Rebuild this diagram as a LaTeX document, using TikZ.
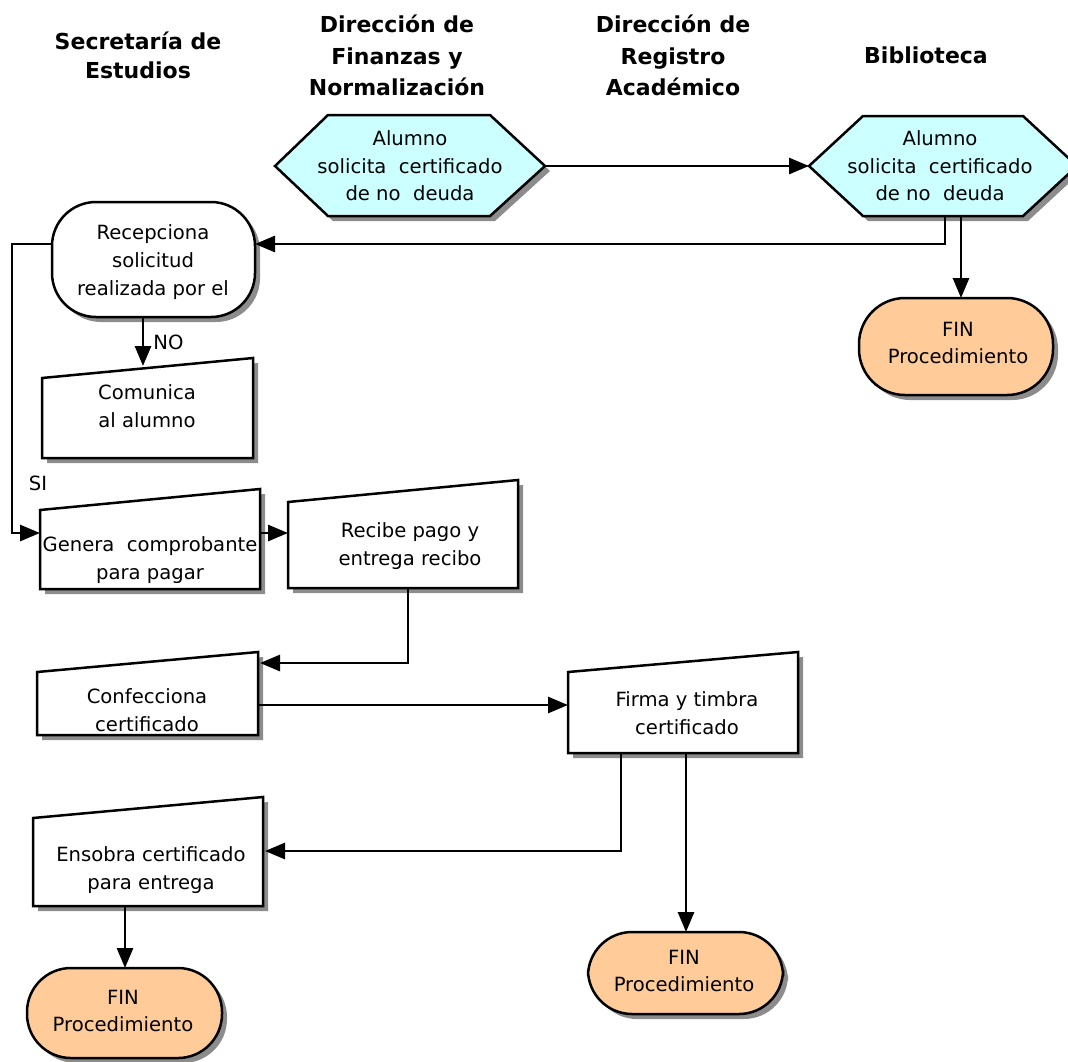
\documentclass[tikz,border=0pt]{standalone}
\usepackage{fontspec}
\setmainfont{DejaVu Sans}
\usetikzlibrary{arrows.meta}

\definecolor{hexcyan}{HTML}{CCFFFF}
\definecolor{finpeach}{HTML}{FFCC99}
\definecolor{shadowgray}{HTML}{8C8C8C}

% a filled outline with a grey drop shadow: #1 fill colour, #2 path
\newcommand{\shadedshape}[2]{%
  \fill[shadowgray, shift={(5,5)}] #2;
  \filldraw[shape line, fill=#1] #2;}

\begin{document}
\begin{tikzpicture}[x=0.5pt, y=-0.5pt,
  shape line/.style={draw=black, line width=1.25pt, line join=miter},
  conn/.style={line width=1.4pt, -{Triangle[length=10pt,width=8pt]}},
  body/.style={font=\fontsize{9.8}{13.8}\selectfont, align=center, inner sep=0pt},
  head/.style={font=\fontsize{11}{15}\selectfont\bfseries, anchor=base, inner sep=0pt},
  lbl/.style={font=\fontsize{9.8}{13.8}\selectfont, inner sep=0pt},
]
\useasboundingbox (0,0) rectangle (1068,1061);
\begin{scope}
\clip (0,0) rectangle (1068,1061);

% ---- column headings ----
\node[head] (h-sec1) at (138,49) {Secretaría de};
\node[head] (h-sec2) at (138,78) {Estudios};
\node[head] (h-fin1) at (397,32) {Dirección de};
\node[head] (h-fin2) at (397,64) {Finanzas y};
\node[head] (h-fin3) at (397,95) {Normalización};
\node[head] (h-reg1) at (673,32) {Dirección de};
\node[head] (h-reg2) at (673,64) {Registro};
\node[head] (h-reg3) at (673,95) {Académico};
\node[head] (h-bib)  at (926,63) {Biblioteca};

% ---- shapes ----
\shadedshape{hexcyan}{(275,166) -- (328,115) -- (490,115) -- (545,166) -- (490,216) -- (328,216) -- cycle}
\shadedshape{hexcyan}{(809,166) -- (863,116) -- (1023,116) -- (1077,166) -- (1023,216) -- (863,216) -- cycle}
\shadedshape{white}{[rounded corners=22pt] (52,202) rectangle (255,317)}
\shadedshape{finpeach}{[rounded corners=23pt] (859,298) rectangle (1053,395)}
\shadedshape{white}{(42,378) -- (253,358) -- (253,458) -- (42,458) -- cycle}
\shadedshape{white}{(40,510) -- (260,489) -- (260,589) -- (40,589) -- cycle}
\shadedshape{white}{(288,502) -- (518,480) -- (518,588) -- (288,588) -- cycle}
\shadedshape{white}{(37,672) -- (258,652) -- (258,735) -- (37,735) -- cycle}
\shadedshape{white}{(568,672) -- (798,652) -- (798,753) -- (568,753) -- cycle}
\shadedshape{white}{(33,818) -- (263,797) -- (263,906) -- (33,906) -- cycle}
\shadedshape{finpeach}{[rounded corners=22pt] (588,932) rectangle (783,1014)}
\shadedshape{finpeach}{[rounded corners=22pt] (27,968) rectangle (222,1058)}

% ---- texts ----
\node[body] (t-hexA)  at (410,166) {Alumno\\solicita\ \ certificado\\de no\ \ deuda};
\node[body] (t-hexB)  at (940,166) {Alumno\\solicita\ \ certificado\\de no\ \ deuda};
\node[body] (t-recep) at (153,262) {Recepciona\\solicitud\\realizada por el};
\node[body] (t-fin1)  at (958,343) {FIN\\Procedimiento};
\node[body] (t-com)   at (147,406) {Comunica\\al alumno};
\node[body] (t-gen)   at (150,560) {Genera\ \ comprobante\\para pagar};
\node[body] (t-rec)   at (410,546) {Recibe pago y\\entrega recibo};
\node[body] (t-conf)  at (147,710) {Confecciona\\certificado};
\node[body] (t-firma) at (687,713) {Firma y timbra\\certificado};
\node[body] (t-ens)   at (151,870) {Ensobra certificado\\para entrega};
\node[body] (t-fin2)  at (684,971) {FIN\\Procedimiento};
\node[body] (t-fin3)  at (123,1011) {FIN\\Procedimiento};

\node[lbl, anchor=west] (l-no) at (153,342) {NO};
\node[lbl] (l-si) at (38,483) {SI};

% ---- connection points ----
\coordinate (hexA-e)  at (545,166);
\coordinate (hexB-w)  at (809,166);
\coordinate (hexB-s1) at (945,216);
\coordinate (hexB-s2) at (961,216);
\coordinate (recep-e) at (255,244);
\coordinate (recep-w) at (52,244);
\coordinate (recep-s) at (143,317);
\coordinate (si-top)  at (12,244);
\coordinate (si-bot)  at (12,533);
\coordinate (fin1-n)  at (961,298);
\coordinate (com-n)   at (143,366);
\coordinate (gen-w)   at (40,533);
\coordinate (gen-e)   at (260,533);
\coordinate (rec-w)   at (288,533);
\coordinate (rec-s)   at (408,588);
\coordinate (conf-e1) at (260,663);
\coordinate (conf-e2) at (258,705);
\coordinate (firma-w) at (568,705);
\coordinate (firma-s1) at (621,753);
\coordinate (firma-s2) at (686,753);
\coordinate (ens-e)   at (265,851);
\coordinate (ens-s)   at (125,906);
\coordinate (fin2-n)  at (686,932);
\coordinate (fin3-n)  at (125,968);

% ---- connectors ----
\draw[conn] (hexA-e) -- (hexB-w);
\draw[conn] (hexB-s1) |- (recep-e);
\draw[conn] (hexB-s2) -- (fin1-n);
\draw[conn] (recep-w) -- (si-top) -- (si-bot) -- (gen-w);
\draw[conn] (recep-s) -- (com-n);
\draw[conn] (gen-e) -- (rec-w);
\draw[conn] (rec-s) |- (conf-e1);
\draw[conn] (conf-e2) -- (firma-w);
\draw[conn] (firma-s1) |- (ens-e);
\draw[conn] (firma-s2) -- (fin2-n);
\draw[conn] (ens-s) -- (fin3-n);
\end{scope}
\end{tikzpicture}
\end{document}
